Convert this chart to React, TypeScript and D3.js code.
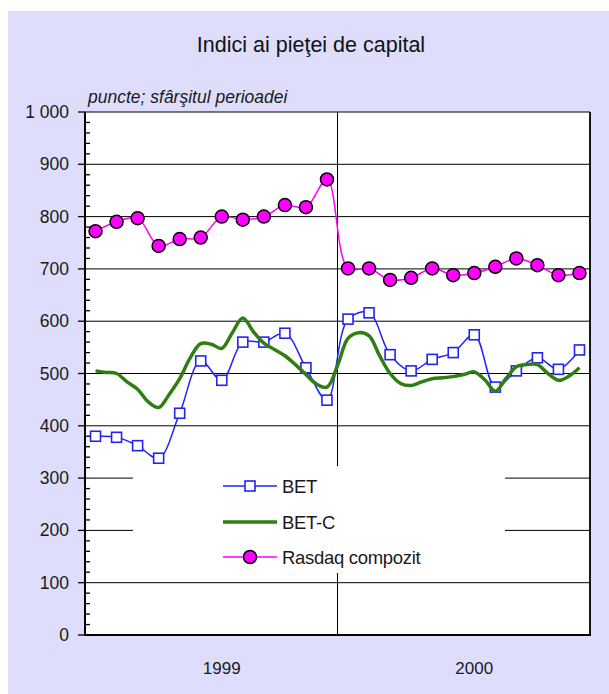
import React from "react";
import * as d3 from "d3";

// lunile (sfarsitul perioadei)
const months = [
  "1999-01", "1999-02", "1999-03", "1999-04", "1999-05", "1999-06",
  "1999-07", "1999-08", "1999-09", "1999-10", "1999-11", "1999-12",
  "2000-01", "2000-02", "2000-03", "2000-04", "2000-05", "2000-06",
  "2000-07", "2000-08", "2000-09", "2000-10", "2000-11", "2000-12",
];
const years = ["1999", "2000"];

const bet = [
  380, 378, 362, 338, 424, 524, 487, 560, 560, 577, 511, 449,
  604, 616, 536, 505, 527, 540, 574, 474, 505, 530, 508, 545,
];
const rasdaq = [
  772, 790, 797, 744, 757, 760, 800, 794, 800, 822, 818, 871,
  701, 701, 679, 683, 701, 688, 692, 704, 720, 707, 688, 692,
];
// BET-C: valori la jumatate de luna
const betC = [
  505, 502, 500, 484, 470, 446, 435, 460, 490, 530, 557, 556,
  548, 578, 606, 580, 558, 546, 534, 517, 498, 480, 474, 515,
  567, 578, 572, 534, 500, 481, 477, 484, 490, 492, 494, 498,
  503, 488, 466, 490, 513, 517, 517, 500, 487, 495, 511,
];
const yTicks = [0, 100, 200, 300, 400, 500, 600, 700, 800, 900, 1000];

const font = "'Liberation Sans', Arial, Helvetica, sans-serif";

function App() {
  const left = 85, right = 590, top = 112, bottom = 635;
  const x = d3.scaleLinear().domain([-0.5, months.length - 0.5]).range([left, right]);
  const y = d3.scaleLinear().domain([0, 1000]).range([bottom, top]);

  const line = d3
    .line<[number, number]>()
    .x((d) => x(d[0]))
    .y((d) => y(d[1]))
    .curve(d3.curveCatmullRom.alpha(0.5));

  const betPts: [number, number][] = bet.map((v, i) => [i, v]);
  const rasPts: [number, number][] = rasdaq.map((v, i) => [i, v]);
  const betCPts: [number, number][] = betC.map((v, i) => [i / 2, v]);

  const minor = d3.range(0, 1001, 20).filter((v) => v % 100 !== 0);
  const divider = x(11.5);

  // legenda
  const lg = { x0: 133, x1: 505, y0: 466, y1: 573 };
  const legendItems = [
    { name: "BET", kind: "sq", y: 486 },
    { name: "BET-C", kind: "ln", y: 522 },
    { name: "Rasdaq compozit", kind: "ci", y: 557 },
  ];

  const yearCenter = (yr: string) => {
    const idx = months.findIndex((m) => m === `${yr}-07`);
    return x(idx);
  };

  return (
    <svg width={609} height={694} style={{ position: "absolute", left: 0, top: 0 }}>
      <rect x={8} y={11} width={601} height={683} fill="#DEDEFC" />
      <text x={311} y={52} textAnchor="middle" fontFamily={font} fontSize={21.5} fill="#111">
        Indici ai pieţei de capital
      </text>
      <text x={88} y={103} fontFamily={font} fontSize={17.5} fontStyle="italic" fill="#1a1a1a">
        puncte; sfârşitul perioadei
      </text>

      <rect x={left} y={top} width={right - left} height={bottom - top} fill="#fff" />

      {/* grila */}
      {yTicks.slice(1, -1).map((t) => (
        <line key={t} x1={left} x2={right} y1={y(t)} y2={y(t)} stroke="#000" strokeWidth={1} />
      ))}
      <line x1={divider} x2={divider} y1={top} y2={bottom} stroke="#000" strokeWidth={1} />

      {/* legenda fundal */}
      <rect x={lg.x0} y={lg.y0} width={lg.x1 - lg.x0} height={lg.y1 - lg.y0} fill="#fff" />

      {/* serii */}
      <path d={line(betPts) || ""} fill="none" stroke="#2323F5" strokeWidth={1.5} />
      {betPts.map((d, i) => (
        <rect key={i} x={x(d[0]) - 5} y={y(d[1]) - 5} width={10} height={10} fill="#fff" stroke="#2323F5" strokeWidth={1.6} />
      ))}
      <path d={line(betCPts) || ""} fill="none" stroke="#2F7E12" strokeWidth={3.5} strokeLinejoin="round" />
      <path d={line(rasPts) || ""} fill="none" stroke="#FF00FF" strokeWidth={1.5} />
      {rasPts.map((d, i) => (
        <circle key={i} cx={x(d[0])} cy={y(d[1])} r={6.5} fill="#FF00FF" stroke="#000" strokeWidth={1.5} />
      ))}

      {legendItems.map((it) => (
        <g key={it.name}>
          <line x1={223} x2={277} y1={it.y} y2={it.y}
            stroke={it.kind === "sq" ? "#2323F5" : it.kind === "ln" ? "#2F7E12" : "#FF00FF"}
            strokeWidth={it.kind === "ln" ? 3.5 : 1.5} />
          {it.kind === "sq" && <rect x={245} y={it.y - 5} width={10} height={10} fill="#fff" stroke="#2323F5" strokeWidth={1.6} />}
          {it.kind === "ci" && <circle cx={250} cy={it.y} r={6.5} fill="#FF00FF" stroke="#000" strokeWidth={1.5} />}
          <text x={282} y={it.y + 7} fontFamily={font} fontSize={18.5} fill="#1a1a1a" letterSpacing={-0.3}>
            {it.name}
          </text>
        </g>
      ))}

      {/* cadru */}
      <line x1={left} x2={right} y1={top} y2={top} stroke="#000" strokeWidth={1.2} />
      <line x1={right} x2={right} y1={top} y2={bottom} stroke="#000" strokeWidth={1.8} />
      <line x1={left} x2={right + 1} y1={bottom} y2={bottom} stroke="#000" strokeWidth={2} />
      <line x1={left} x2={left} y1={top} y2={bottom + 1} stroke="#000" strokeWidth={2} />

      {/* axa y */}
      {yTicks.map((t) => (
        <g key={t}>
          <line x1={78} x2={left} y1={y(t)} y2={y(t)} stroke="#000" strokeWidth={1.3} />
          <text x={69} y={y(t) + 6} textAnchor="end" fontFamily={font} fontSize={17.5} fill="#1a1a1a">
            {t === 1000 ? "1 000" : t}
          </text>
        </g>
      ))}
      {minor.map((t) => (
        <line key={t} x1={left} x2={left + 5} y1={y(t)} y2={y(t)} stroke="#000" strokeWidth={1.3} />
      ))}

      {/* axa x */}
      {years.map((yr) => (
        <text key={yr} x={yearCenter(yr)} y={674} textAnchor="middle" fontFamily={font} fontSize={17} fill="#1a1a1a">
          {yr}
        </text>
      ))}
    </svg>
  );
}

export default App;
